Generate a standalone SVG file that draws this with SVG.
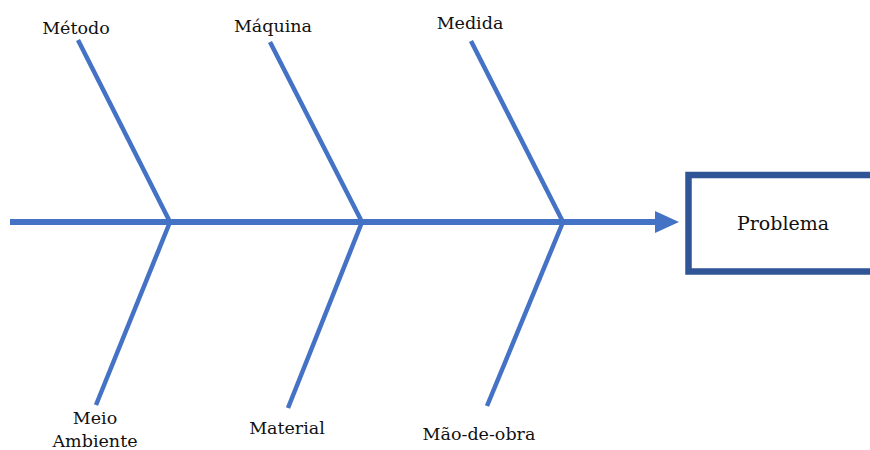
<svg xmlns="http://www.w3.org/2000/svg" width="870" height="450" viewBox="0 0 870 450">
<style>
.bone{stroke:#4472C4;stroke-width:4.5;stroke-linecap:butt;fill:none}
.spine{stroke:#4472C4;stroke-width:6;fill:none}
.lbl{font-family:"DejaVu Serif","Liberation Serif",serif;font-size:17.5px;fill:#111;text-anchor:middle}
.big{font-size:19px}
.box{fill:#fff;stroke:#2F5597;stroke-width:6.5}
</style>
<rect width="870" height="450" fill="#fff"/>
<g id="connectors">
<line class="spine" x1="10" y1="222" x2="657" y2="222"/>
<polygon points="655,211 679,222 655,233" fill="#4472C4"/>
<line class="bone" x1="78" y1="40" x2="170" y2="222"/>
<line class="bone" x1="170" y1="222" x2="96" y2="405"/>
<line class="bone" x1="270" y1="42" x2="362" y2="222"/>
<line class="bone" x1="362" y1="222" x2="288" y2="408"/>
<line class="bone" x1="471" y1="41" x2="563" y2="222"/>
<line class="bone" x1="563" y1="222" x2="487" y2="406"/>
</g>
<g id="problema">
<rect class="box" x="688.5" y="175" width="190" height="96.5"/>
<text class="lbl big" x="783" y="230">Problema</text>
</g>
<g id="metodo"><text class="lbl" x="76" y="34">Método</text></g>
<g id="maquina"><text class="lbl" x="273" y="32">Máquina</text></g>
<g id="medida"><text class="lbl" x="470" y="29">Medida</text></g>
<g id="meio-ambiente"><text class="lbl" x="95" y="424">Meio</text><text class="lbl" x="95" y="447">Ambiente</text></g>
<g id="material"><text class="lbl" x="287" y="434">Material</text></g>
<g id="mao-de-obra"><text class="lbl" x="479" y="440">Mão-de-obra</text></g>
</svg>
